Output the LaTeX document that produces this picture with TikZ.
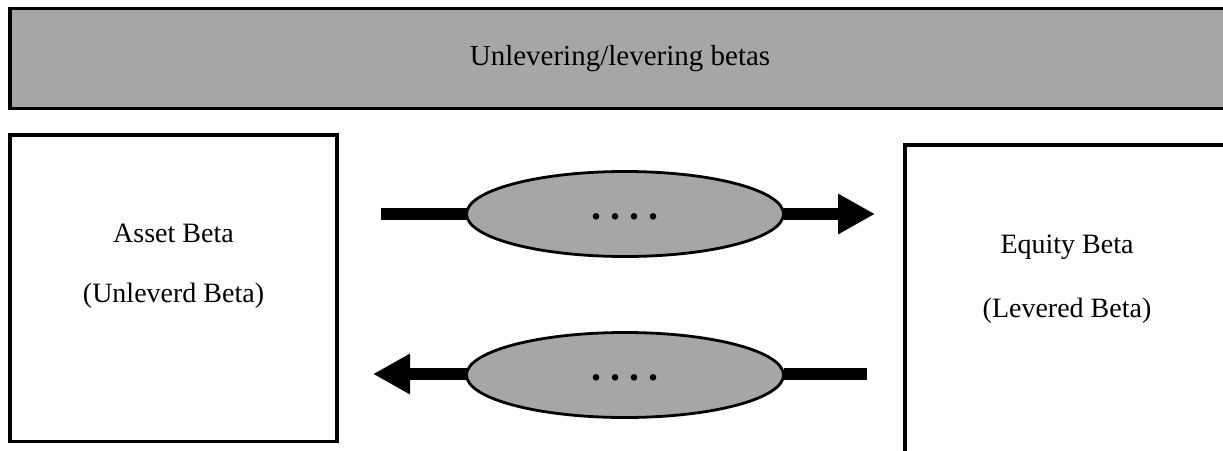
\documentclass[tikz,border=0pt]{standalone}
\usepackage{fontspec}
\setmainfont{Liberation Serif}
\usetikzlibrary{arrows.meta,shapes.geometric}
\definecolor{fillgray}{RGB}{166,166,166}
\tikzset{
  boxstyle/.style={draw=black, line width=3.6pt, rectangle, inner sep=0pt, outer sep=0pt},
  ovalstyle/.style={draw=black, line width=2.8pt, ellipse, fill=fillgray, inner sep=0pt, outer sep=0pt,
    minimum width=317pt, minimum height=85pt},
  shaft/.style={line width=12pt, line cap=butt, draw=black},
  boxtext/.style={font=\fontsize{28}{34}\selectfont, anchor=base, inner sep=0pt},
  dotstext/.style={font=\fontsize{40}{40}\selectfont\bfseries, inner sep=0pt},
  headtip/.style={-{Triangle[length=37pt,width=38pt]}}
}
\begin{document}
\begin{tikzpicture}[x=1pt,y=-1pt]
\clip (0,0) rectangle (1223,450);
\fill[white] (0,0) rectangle (1223,450);
% banner
\node[boxstyle, fill=fillgray, minimum width=1220pt, minimum height=100pt,
  font=\fontsize{29}{34}\selectfont] (banner) at (620,58.5) {Unlevering/levering betas};
% boxes
\node[boxstyle, minimum width=327pt, minimum height=306.5pt] (asset) at (173.6,288.25) {};
\node[boxstyle, minimum width=324pt, minimum height=325pt] (equity) at (1067,307.5) {};
\node[boxtext] (assetA) at (173.5,242) {Asset Beta};
\node[boxtext] (assetB) at (173.5,302) {(Unleverd Beta)};
\node[boxtext] (equityA) at (1067,253) {Equity Beta};
\node[boxtext] (equityB) at (1067,317) {(Levered Beta)};
% connector end points
\coordinate (s1) at (381,214);
\coordinate (t1) at (875,214);
\coordinate (s2) at (867,374);
\coordinate (t2) at (373,374);
% ovals
\node[ovalstyle] (unlev) at (625,214) {};
\node[ovalstyle] (lev) at (625,375) {};
\node[dotstext] (dots1) at (625,217) {.\kern9pt.\kern9pt.\kern9pt.};
\node[dotstext] (dots2) at (625,378) {.\kern9pt.\kern9pt.\kern9pt.};
% arrows
\draw[shaft] (s1) -- (unlev.west);
\draw[shaft, headtip] (unlev.east) -- (t1);
\draw[shaft] (s2) -- (lev.east |- s2);
\draw[shaft, headtip] (lev.west |- t2) -- (t2);
\end{tikzpicture}
\end{document}
